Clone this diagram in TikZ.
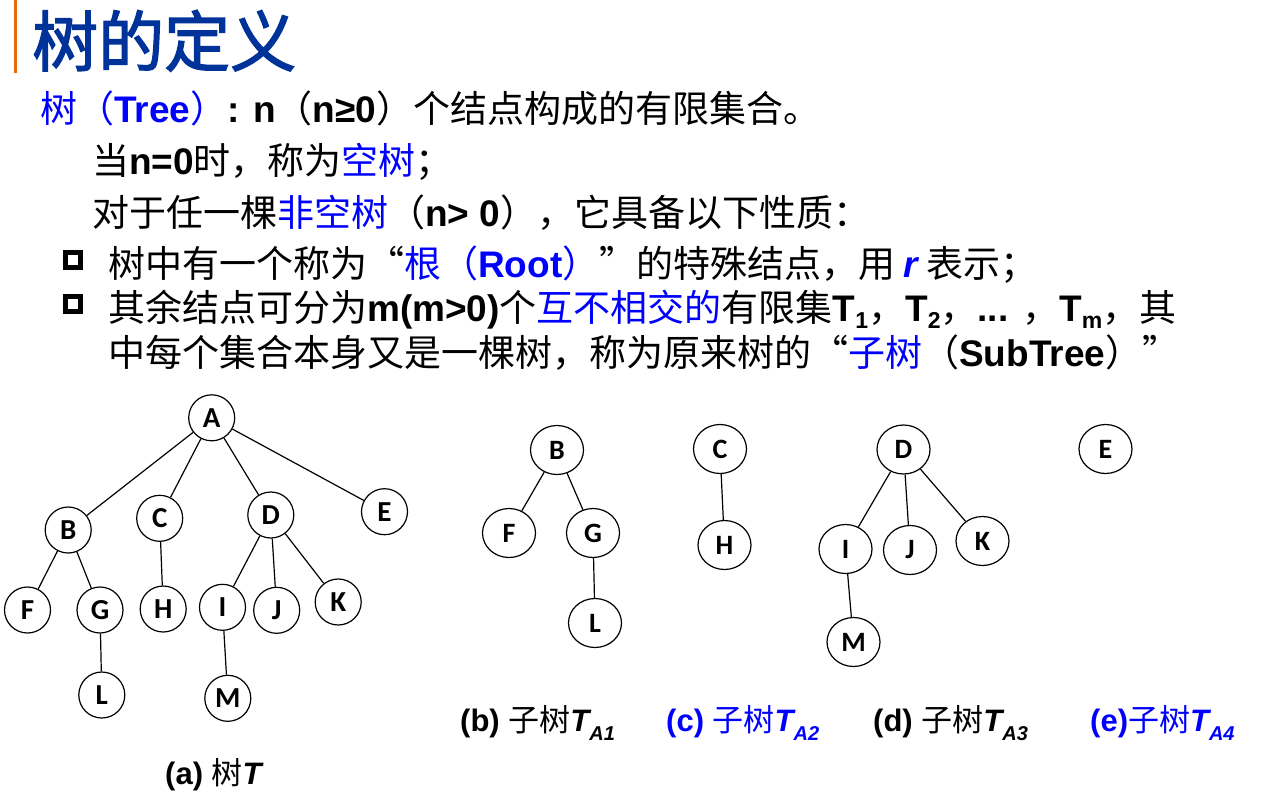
\documentclass[tikz,border=0pt]{standalone}
\usepackage{fontspec}
\usetikzlibrary{shapes.geometric}
\setmainfont{Liberation Sans}
\newfontfamily\cjk{Noto Sans CJK SC}
\newfontfamily\cjkt{Noto Sans CJK SC}[FakeBold=2]
\newfontfamily\lat{Liberation Sans}
\newfontfamily\lblfont{Carlito}
\definecolor{tblue}{RGB}{0,0,255}
\definecolor{titleblue}{RGB}{0,51,153}
\definecolor{barorange}{RGB}{228,108,10}
\newcommand\en[1]{{\lat\bfseries #1}}
\newcommand\sbx[1]{\raisebox{-0.2em}{\fontsize{23}{23}\selectfont\lat\bfseries #1}}
\newcommand\csub[1]{\raisebox{-0.32em}{\fontsize{20}{20}\selectfont\lat\bfseries\itshape #1}}
\tikzset{
  txt/.style={anchor=base west, inner sep=0pt, font=\fontsize{37}{40}\selectfont\cjk},
  captxt/.style={anchor=base west, inner sep=0pt, font=\fontsize{31}{36}\selectfont\cjk},
  lnode/.style={circle, draw, line width=1.2pt, minimum size=46pt, inner sep=0pt, font=\fontsize{29}{29}\selectfont\lblfont\bfseries},
  rnode/.style={ellipse, draw, line width=1.2pt, minimum width=53pt, minimum height=49pt, inner sep=0pt, font=\fontsize{28}{28}\selectfont\lblfont\bfseries},
  link/.style={line width=1.2pt},
  sqbullet/.style={draw, line width=5pt, minimum size=15pt, inner sep=0pt}
}
\begin{document}
\begin{tikzpicture}[x=1pt,y=-1pt]
\useasboundingbox (0,0) rectangle (1284,803);
\fill[white] (0,0) rectangle (1284,803);
% title bar
\fill[barorange] (14,0) rectangle (17,73);
\node[anchor=base west, inner sep=0pt, text=titleblue, font=\fontsize{66}{70}\selectfont\cjkt] (title) at (32,66) {树的定义};
% text lines
\node[txt] (l1) at (40,122) {\textcolor{tblue}{树（\en{Tree}）}\en{: n}（\en{n≥0}）个结点构成的有限集合。};
\node[txt] (l2) at (92,174) {当\en{n=0}时，称为\textcolor{tblue}{空树}；};
\node[txt] (l3) at (92,226) {对于任一棵\textcolor{tblue}{非空树}（\en{n> 0}），它具备以下性质：};
\node[sqbullet] (b1) at (72.5,260) {};
\node[sqbullet] (b2) at (72.5,304) {};
\node[txt] (l4) at (108,277) {树中有一个称为“\textcolor{tblue}{根（\en{Root}）}”的特殊结点，用 \textcolor{tblue}{\en{\itshape r}} 表示；};
\node[txt] (l5) at (108,321) {其余结点可分为\en{m(m>0)}个\textcolor{tblue}{互不相交的}有限集\en{T}\sbx{1}，\en{T}\sbx{2}，\en{... }，\en{T}\sbx{m}，其};
\node[txt] (l6) at (108,366) {中每个集合本身又是一棵树，称为原来树的“\textcolor{tblue}{子树}（\en{SubTree}）”};
% left tree
\node[lnode] (A) at (211.7,417.8) {A};
\node[lnode] (B) at (68.2,530) {B};
\node[lnode] (C) at (159.7,518.3) {C};
\node[lnode] (D) at (270.8,515) {D};
\node[lnode] (E) at (384.5,511.7) {E};
\node[lnode] (F) at (27.5,610) {F};
\node[lnode] (G) at (100,610) {G};
\node[lnode] (H) at (163.2,609) {H};
\node[lnode] (I) at (222.5,607.3) {I};
\node[lnode] (J) at (276.7,610.3) {J};
\node[lnode] (K) at (338.2,602) {K};
\node[lnode] (L) at (101.8,695) {L};
\node[lnode] (M) at (227.8,698.3) {M};
\draw[link] (A) -- (B);
\draw[link] (A) -- (C);
\draw[link] (A) -- (D);
\draw[link] (A) -- (E);
\draw[link] (B) -- (F);
\draw[link] (B) -- (G);
\draw[link] (G) -- (L);
\draw[link] (C) -- (H);
\draw[link] (D) -- (I);
\draw[link] (D) -- (J);
\draw[link] (D) -- (K);
\draw[link] (I) -- (M);
% subtree B
\node[rnode] (B2) at (557,450) {B};
\node[rnode] (F2) at (509,533) {F};
\node[rnode] (G2) at (593,533) {G};
\node[rnode] (L2) at (595,623) {L};
\draw[link] (B2) -- (F2);
\draw[link] (B2) -- (G2);
\draw[link] (G2) -- (L2);
% subtree C
\node[rnode] (C2) at (720,449) {C};
\node[rnode] (H2) at (724.5,545) {H};
\draw[link] (C2) -- (H2);
% subtree D
\node[rnode] (D2) at (903.5,449.5) {D};
\node[rnode] (I2) at (845.5,549) {I};
\node[rnode] (J2) at (910,550) {J};
\node[rnode] (K2) at (982.5,541) {K};
\node[rnode] (M2) at (853.5,642) {M};
\draw[link] (D2) -- (I2);
\draw[link] (D2) -- (J2);
\draw[link] (D2) -- (K2);
\draw[link] (I2) -- (M2);
% subtree E
\node[rnode] (E2) at (1105.5,449) {E};
% captions
\node[captxt] (capb) at (460,731) {\en{(b) }子树\en{\itshape T}\csub{A1}};
\node[captxt, text=tblue] (capc) at (666,731) {\en{(c) }子树\en{\itshape T}\csub{A2}};
\node[captxt] (capd) at (873,731) {\en{(d) }子树\en{\itshape T}\csub{A3}};
\node[captxt, text=tblue] (cape) at (1090,731) {\en{(e)}子树\en{\itshape T}\csub{A4}};
\node[captxt] (capa) at (165,784) {\en{(a) }树\en{\itshape T}};
\end{tikzpicture}
\end{document}
